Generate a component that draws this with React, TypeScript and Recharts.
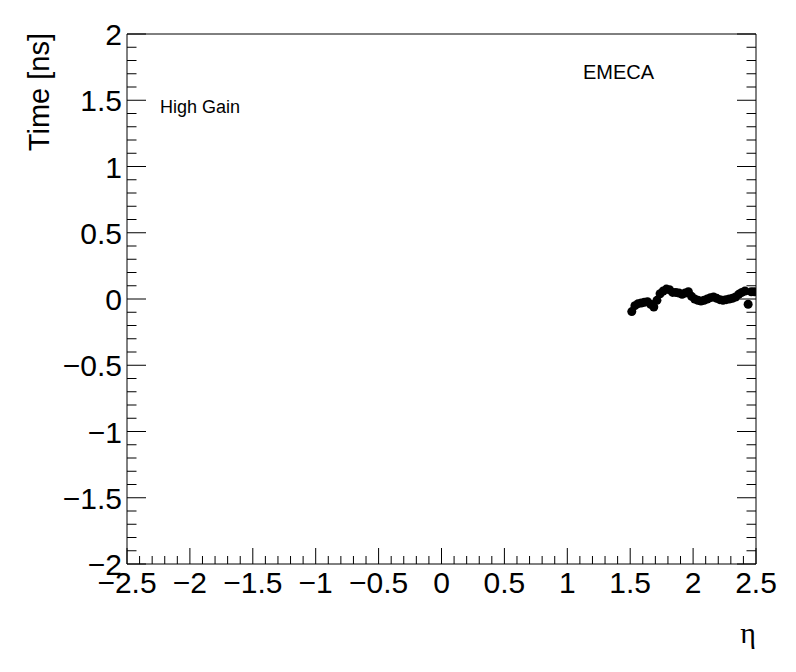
import React from 'react';
import { ScatterChart, Scatter, XAxis, YAxis } from 'recharts';

// η bin centres and mean time (ns), EMEC A side, high gain
const etaValues = [
  1.5125, 1.5375, 1.5625, 1.5875, 1.6125, 1.6375, 1.6625, 1.6875, 1.7125, 1.7375,
  1.7625, 1.7875, 1.8125, 1.8375, 1.8625, 1.8875, 1.9125, 1.9375, 1.9625, 1.9875,
  2.0125, 2.0375, 2.0625, 2.0875, 2.1125, 2.1375, 2.1625, 2.1875, 2.2125, 2.2375,
  2.2625, 2.2875, 2.3125, 2.3375, 2.3625, 2.3875, 2.4125, 2.4375, 2.4625, 2.4875,
];
const timeValues = [
  -0.095, -0.05, -0.035, -0.03, -0.025, -0.02, -0.04, -0.06, -0.01, 0.04,
  0.06, 0.075, 0.07, 0.05, 0.05, 0.045, 0.035, 0.045, 0.055, 0.02,
  0.0, -0.01, -0.015, -0.01, 0.0, 0.01, 0.015, 0.005, -0.005, -0.01,
  -0.005, 0.0, 0.005, 0.015, 0.035, 0.05, 0.06, -0.04, 0.055, 0.055,
];

const xDomain = [-2.5, 2.5];
const yDomain = [-2, 2];
const xMajorLabels = ['−2.5', '−2', '−1.5', '−1', '−0.5', '0', '0.5', '1', '1.5', '2', '2.5'];
const yMajorLabels = ['−2', '−1.5', '−1', '−0.5', '0', '0.5', '1', '1.5', '2'];

const data = etaValues.map((eta, i) => ({ eta, time: timeValues[i] }));

const steps = (lo: number, hi: number, step: number) =>
  Array.from({ length: Math.round((hi - lo) / step) + 1 }, (_, i) => Math.round((lo + i * step) * 10) / 10);

const xTicks = steps(xDomain[0], xDomain[1], 0.1);
const yTicks = steps(yDomain[0], yDomain[1], 0.1);

const isMajor = (v: number) => Math.abs(v * 2 - Math.round(v * 2)) < 1e-6;
const font = '"Liberation Sans", Arial, Helvetica, sans-serif';

function majorLabel(v: number, labels: string[], lo: number) {
  return labels[Math.round((v - lo) * 2)];
}

function BottomTick({ x, y, payload }: any) {
  const v = payload.value;
  const major = isMajor(v);
  return (
    <g>
      <line x1={x} x2={x} y1={y} y2={y - (major ? 16 : 8)} stroke="#000" />
      {major && (
        <text x={x} y={y + 29} textAnchor="middle" fontSize={30} fontFamily={font} fill="#000">
          {majorLabel(v, xMajorLabels, xDomain[0])}
        </text>
      )}
    </g>
  );
}

function TopTick({ x, y, payload }: any) {
  const major = isMajor(payload.value);
  return <line x1={x} x2={x} y1={y} y2={y + (major ? 16 : 8)} stroke="#000" />;
}

function LeftTick({ x, y, payload }: any) {
  const v = payload.value;
  const major = isMajor(v);
  return (
    <g>
      <line x1={x} x2={x + (major ? 19 : 9.5)} y1={y} y2={y} stroke="#000" />
      {major && (
        <text x={x - 5} y={y + 11} textAnchor="end" fontSize={30} fontFamily={font} fill="#000">
          {majorLabel(v, yMajorLabels, yDomain[0])}
        </text>
      )}
    </g>
  );
}

function RightTick({ x, y, payload }: any) {
  const major = isMajor(payload.value);
  return <line x1={x} x2={x - (major ? 19 : 9.5)} y1={y} y2={y} stroke="#000" />;
}

const Dot = ({ cx, cy }: any) => <circle cx={cx} cy={cy} r={4.5} fill="#000" />;

export default function App() {
  return (
    <div style={{ position: 'absolute', left: 0, top: 0, width: 796, height: 672, background: '#fff' }}>
      <ScatterChart width={796} height={672} margin={{ top: 33, right: 39, bottom: 107, left: 126 }}>
        <XAxis
          xAxisId="b"
          type="number"
          dataKey="eta"
          domain={xDomain}
          ticks={xTicks}
          interval={0}
          height={1}
          tickSize={0}
          tickMargin={0}
          tickLine={false}
          tick={<BottomTick />}
          axisLine={{ stroke: '#000' }}
          allowDataOverflow
        />
        <XAxis
          xAxisId="t"
          orientation="top"
          type="number"
          domain={xDomain}
          ticks={xTicks}
          interval={0}
          height={1}
          tickSize={0}
          tickMargin={0}
          tickLine={false}
          tick={<TopTick />}
          axisLine={{ stroke: '#000' }}
          allowDataOverflow
        />
        <YAxis
          yAxisId="l"
          type="number"
          dataKey="time"
          domain={yDomain}
          ticks={yTicks}
          interval={0}
          width={1}
          tickSize={0}
          tickMargin={0}
          tickLine={false}
          tick={<LeftTick />}
          axisLine={{ stroke: '#000' }}
          allowDataOverflow
        />
        <YAxis
          yAxisId="r"
          orientation="right"
          type="number"
          domain={yDomain}
          ticks={yTicks}
          interval={0}
          width={1}
          tickSize={0}
          tickMargin={0}
          tickLine={false}
          tick={<RightTick />}
          axisLine={{ stroke: '#000' }}
          allowDataOverflow
        />
        <Scatter data={data} xAxisId="b" yAxisId="l" shape={<Dot />} isAnimationActive={false} />
        <text
          transform="translate(49, 33) rotate(-90)"
          textAnchor="end"
          fontSize={29}
          fontFamily={font}
          fill="#000"
        >
          Time [ns]
        </text>
        <text
          x={756}
          y={643}
          textAnchor="end"
          fontSize={30}
          fontFamily='"Liberation Serif", "DejaVu Serif", serif'
          fill="#000"
        >
          η
        </text>
        <text x={160} y={113} fontSize={18} fontFamily={font} fill="#000">
          High Gain
        </text>
        <text x={583} y={79} fontSize={20} fontFamily={font} fill="#000">
          EMECA
        </text>
      </ScatterChart>
    </div>
  );
}
